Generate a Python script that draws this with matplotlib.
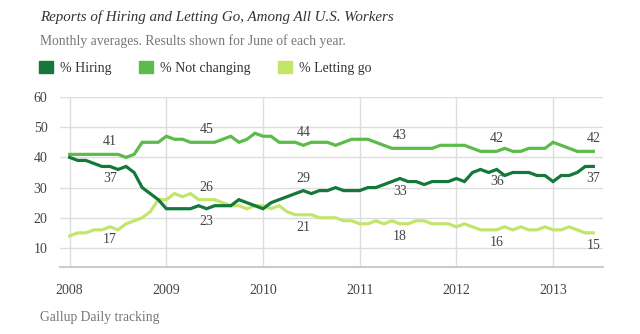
import numpy as np
import matplotlib.pyplot as plt
from matplotlib.patches import Patch

# Gallup Daily tracking, monthly averages Jan 2008 - Jun 2013
hiring = [40, 39, 39, 38, 37, 37, 36, 37, 35, 30, 28, 26,
          23, 23, 23, 23, 24, 23, 24, 24, 24, 26, 25, 24,
          23, 25, 26, 27, 28, 29, 28, 29, 29, 30, 29, 29,
          29, 30, 30, 31, 32, 33, 32, 32, 31, 32, 32, 32,
          33, 32, 35, 36, 35, 36, 34, 35, 35, 35, 34, 34,
          32, 34, 34, 35, 37, 37]
not_changing = [41, 41, 41, 41, 41, 41, 41, 40, 41, 45, 45, 45,
                47, 46, 46, 45, 45, 45, 45, 46, 47, 45, 46, 48,
                47, 47, 45, 45, 45, 44, 45, 45, 45, 44, 45, 46,
                46, 46, 45, 44, 43, 43, 43, 43, 43, 43, 44, 44,
                44, 44, 43, 42, 42, 42, 43, 42, 42, 43, 43, 43,
                45, 44, 43, 42, 42, 42]
letting_go = [14, 15, 15, 16, 16, 17, 16, 18, 19, 20, 22, 26,
              26, 28, 27, 28, 26, 26, 26, 25, 24, 24, 23, 24,
              24, 23, 24, 22, 21, 21, 21, 20, 20, 20, 19, 19,
              18, 18, 19, 18, 19, 18, 18, 19, 19, 18, 18, 18,
              17, 18, 17, 16, 16, 16, 17, 16, 17, 16, 16, 17,
              16, 16, 17, 16, 15, 15]
years = [2008, 2009, 2010, 2011, 2012, 2013]
june_idx = [5, 17, 29, 41, 53, 65]

# label above (+1) or below (-1) the line for each June value
hiring_side = [-1, -1, 1, -1, -1, -1]
not_changing_side = [1, 1, 1, 1, 1, 1]
letting_go_side = [-1, 1, -1, -1, -1, -1]

dark = '#13783a'
mid = '#5dbb4b'
light = '#c4e56c'
serif = ['Liberation Serif', 'DejaVu Serif']

plt.rcParams['font.family'] = serif

x = 2008 + np.arange(len(hiring)) / 12

fig = plt.figure(figsize=(6.4, 3.34), dpi=100)
ax = fig.add_axes([60 / 640, 67 / 334, 543 / 640, 170 / 334])

ax.plot(x, letting_go, color=light, lw=2.3, solid_joinstyle='miter', zorder=3)
ax.plot(x, not_changing, color=mid, lw=2.3, solid_joinstyle='miter', zorder=3)
ax.plot(x, hiring, color=dark, lw=2.3, solid_joinstyle='miter', zorder=4)

for series, sides in [(hiring, hiring_side), (not_changing, not_changing_side),
                      (letting_go, letting_go_side)]:
    for i, s in zip(june_idx, sides):
        ax.annotate(str(series[i]), (x[i], series[i]), xytext=(0, 9 * s),
                    textcoords='offset points', ha='center', va='center',
                    fontsize=10, color='#444444')

ax.set_xlim(2008 - 1.2 / 12, 2008 + 66.2 / 12)
ax.set_ylim(3.7, 60)
ax.set_xticks(years)
ax.set_xticklabels([str(y) for y in years])
ax.set_yticks([10, 20, 30, 40, 50, 60])
ax.grid(True, color='#dddddd', lw=1)
ax.set_axisbelow(True)
for side in ['top', 'right', 'left']:
    ax.spines[side].set_visible(False)
ax.spines['bottom'].set_color('#cccccc')
ax.spines['bottom'].set_linewidth(1.5)
ax.tick_params(length=0, labelsize=10, colors='#444444')
ax.tick_params(axis='x', pad=12)
ax.tick_params(axis='y', pad=9)

fig.text(40 / 640, 1 - 17 / 334, 'Reports of Hiring and Letting Go, Among All U.S. Workers',
         fontsize=10.8, style='italic', color='#333333', va='center')
fig.text(40 / 640, 1 - 41 / 334, 'Monthly averages. Results shown for June of each year.',
         fontsize=9.8, color='#777777', va='center')
fig.text(40 / 640, 1 - 318 / 334, 'Gallup Daily tracking',
         fontsize=9.8, color='#777777', va='center')

handles = [Patch(color=dark, label='% Hiring'),
           Patch(color=mid, label='% Not changing'),
           Patch(color=light, label='% Letting go')]
fig.legend(handles=handles, loc='center left', bbox_to_anchor=(39 / 640, 1 - 68 / 334),
           ncol=3, frameon=False, fontsize=10, handlelength=1.0, handleheight=1.0,
           handletextpad=0.5, columnspacing=2.0, borderpad=0, borderaxespad=0,
           labelcolor='#333333')

fig.savefig('out.png', dpi=100)
